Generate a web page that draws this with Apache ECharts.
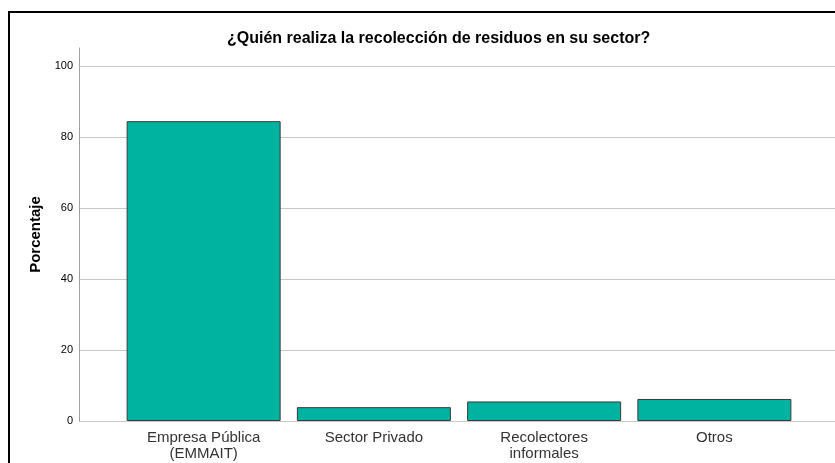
<!DOCTYPE html>
<html>
<head>
<meta charset="utf-8">
<script src="https://cdn.jsdelivr.net/npm/echarts@6/dist/echarts.min.js"></script>
<style>
  html, body { margin: 0; padding: 0; background: #fff; }
  #chart { width: 835px; height: 463px; }
</style>
</head>
<body>
<div id="chart"></div>
<script>
'use strict';

var categories = ['Empresa Pública\n(EMMAIT)', 'Sector Privado', 'Recolectores\ninformales', 'Otros'];
var porcentajes = [84.4, 3.9, 5.5, 6.2];
var titulo = '¿Quién realiza la recolección de residuos en su sector?';
var ejeY = 'Porcentaje';

var chart = echarts.init(document.getElementById('chart'));

// dos grids: uno para el eje Y y las líneas, otro para las barras
var option = {
    animation: false,
    title: {
        text: titulo,
        left: 222,
        top: 26,
        textStyle: {
            fontFamily: 'Liberation Sans, Arial',
            fontSize: 16,
            fontWeight: 'bold',
            color: '#000'
        }
    },
    graphic: [{
        type: 'rect',
        shape: { x: 9, y: 12, width: 900, height: 500 },
        style: { fill: 'none', stroke: '#000', lineWidth: 2 },
        silent: true
    }],
    grid: [
        { left: 79, right: 0, top: 48, bottom: 42 },
        { left: 118.5, right: 35.5, top: 48, bottom: 42 }
    ],
    xAxis: [
        { gridIndex: 0, type: 'value', show: false, min: 0, max: 1 },
        {
            gridIndex: 1,
            type: 'category',
            data: categories,
            axisLine: { show: false },
            axisTick: { show: false },
            axisLabel: {
                margin: 9,
                fontFamily: 'Liberation Sans, Arial',
                fontSize: 15,
                lineHeight: 16,
                color: '#333',
                interval: 0
            }
        }
    ],
    yAxis: [
        {
            gridIndex: 0,
            type: 'value',
            min: 0,
            max: 105,
            interval: 20,
            name: ejeY,
            nameLocation: 'middle',
            nameGap: 36,
            nameTextStyle: {
                fontFamily: 'Liberation Sans, Arial',
                fontSize: 15,
                fontWeight: 'bold',
                color: '#000'
            },
            axisLine: { show: true, lineStyle: { color: '#a0a0a0', width: 1 } },
            axisTick: { show: false },
            axisLabel: {
                showMaxLabel: false,
                margin: 6,
                fontFamily: 'Liberation Sans, Arial',
                fontSize: 11,
                color: '#000'
            },
            splitLine: {
                show: true,
                showMaxLine: false,
                lineStyle: { color: '#c8c8c8', width: 1 }
            }
        },
        { gridIndex: 1, type: 'value', min: 0, max: 105, show: false, splitLine: { show: false } }
    ],
    series: [{
        type: 'bar',
        xAxisIndex: 1,
        yAxisIndex: 1,
        data: porcentajes,
        barWidth: 154,
        itemStyle: {
            color: '#00b3a0',
            borderColor: '#3a3a3a',
            borderWidth: 1
        }
    }]
};

chart.setOption(option);
</script>
</body>
</html>
